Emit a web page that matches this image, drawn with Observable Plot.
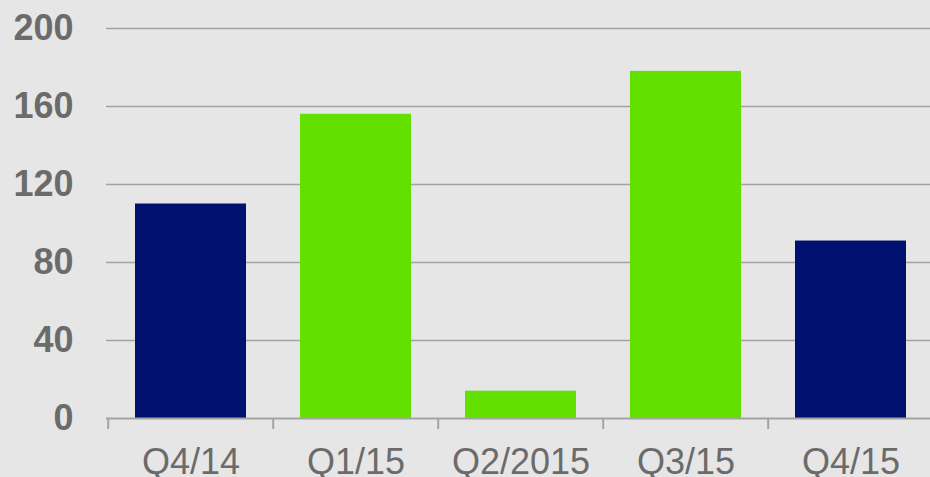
<!DOCTYPE html>
<html><head><meta charset="utf-8">
<script src="https://cdn.jsdelivr.net/npm/d3@7"></script>
<script src="https://cdn.jsdelivr.net/npm/@observablehq/plot@0.6"></script>
<style>
html,body{margin:0;padding:0;background:#e6e6e6;overflow:hidden}
svg{display:block}
</style></head><body><div id="chart"></div>
<script>
const categories = ["Q4/14", "Q1/15", "Q2/2015", "Q3/15", "Q4/15"];
const values = [110, 156, 14, 178, 91];
const barColors = ["#001170", "#62e000", "#62e000", "#62e000", "#001170"];
const yTicks = [0, 40, 80, 120, 160, 200];

const data = categories.map((c, i) => ({q: c, v: values[i], color: barColors[i]}));
const W = 930, H = 477, left = 106, right = 934;
const band = (right - left) / categories.length;
const grid = "#a3a3a3", textColor = "#6b6b6b";

const chart = Plot.plot({
  width: W, height: H,
  marginTop: 28, marginBottom: 59, marginLeft: 106, marginRight: 0,
  style: {background: "#e6e6e6", fontFamily: "'Liberation Sans', Arial, sans-serif", color: textColor},
  x: {domain: categories, range: [left, right], paddingInner: 0.33, paddingOuter: 0.165, align: 0.5, label: null},
  y: {domain: [0, 200], label: null},
  color: {type: "identity"},
  marks: [
    Plot.ruleY(yTicks.filter(d => d > 0), {stroke: grid, strokeWidth: 1.5}),
    Plot.barY(data, {x: "q", y: "v", fill: "color"}),
    Plot.ruleY([0], {stroke: grid, strokeWidth: 2}),
    Plot.axisY({ticks: yTicks, tickSize: 0, tickPadding: 33, fontSize: 36, fontWeight: "bold", fill: textColor, label: null}),
    Plot.axisX({tickSize: 11, dx: -band / 2, tickFormat: () => "", stroke: grid, strokeWidth: 2, label: null}),
    Plot.axisX({tickSize: 0, tickPadding: 30, fontSize: 36, fill: textColor, label: null})
  ]
});
document.getElementById("chart").appendChild(chart);
</script>
</body></html>
